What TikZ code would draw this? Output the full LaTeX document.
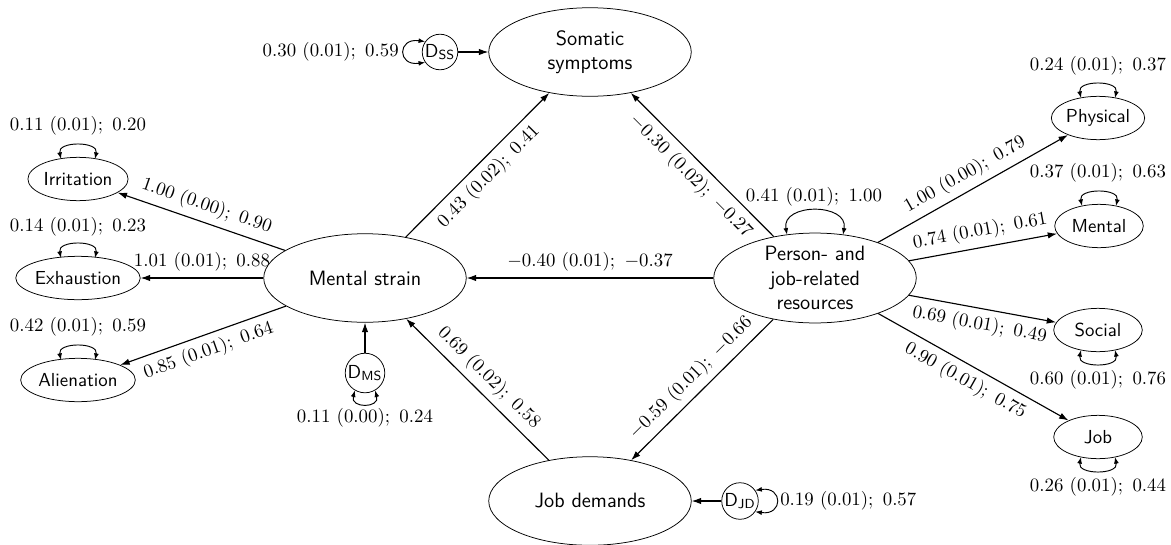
\documentclass[tikz,border=0pt]{standalone}
\usetikzlibrary{arrows.meta,calc,shapes.geometric}
\begin{document}
\begin{tikzpicture}[x=0.5308pt,y=-0.5308pt,
  big/.style={ellipse,draw,line width=0.4pt,minimum width=107.5pt,minimum height=47pt,inner sep=0pt,align=center,font=\sffamily\fontsize{11}{13}\selectfont},
  small/.style={ellipse,draw,line width=0.4pt,minimum width=47pt,minimum height=23pt,inner sep=0.5pt,font=\sffamily},
  dnode/.style={circle,draw,line width=0.4pt,inner sep=0.3pt,font=\sffamily},
  lab/.style={inner sep=1pt,font=\normalsize},
  arr/.style={semithick,-{Latex[length=5pt,width=3.4pt]}},
  selfloop/.style={line width=0.5pt,{Latex[length=3.5pt,width=2.6pt]}-{Latex[length=3.5pt,width=2.6pt]}},
  elab/.style={sloped,font=\normalsize},
]
\useasboundingbox (0,0) rectangle (1171,544);

% main latent variables
\node[big] (ss) at (590,52) {Somatic\\symptoms};
\node[big] (ms) at (365,278) {Mental strain};
\node[big] (pr) at (815,278) {Person- and\\job-related\\resources};
\node[big] (jd) at (590,501) {Job demands};

% indicators
\node[small] (irr) at (78,179) {Irritation};
\node[small] (exh) at (78,278) {Exhaustion};
\node[small] (ali) at (78,380) {Alienation};
\node[small] (phy) at (1098,118) {Physical};
\node[small] (men) at (1099,226) {Mental};
\node[small] (soc) at (1098,330) {Social};
\node[small] (job) at (1098,437) {Job};

% disturbances
\node[dnode] (dss) at (440,52) {$\mathsf{D}_{\mathsf{SS}}$};
\node[dnode] (dms) at (365,373) {$\mathsf{D}_{\mathsf{MS}}$};
\node[dnode] (djd) at (740,501) {$\mathsf{D}_{\mathsf{JD}}$};

% paths
\draw[arr] (ms) -- node[elab,above]{$1.00\ (0.00);\ 0.90$} (irr);
\draw[arr] (ms) -- node[elab,above]{$1.01\ (0.01);\ 0.88$} (exh);
\draw[arr] (ms) -- node[elab,below]{$0.85\ (0.01);\ 0.64$} (ali);
\draw[arr] (ms) -- node[elab,below]{$0.43\ (0.02);\ 0.41$} (ss);
\draw[arr] (pr) -- node[elab,below]{$-0.30\ (0.02);\ -0.27$} (ss);
\draw[arr] (pr) -- node[elab,above]{$-0.40\ (0.01);\ -0.37$} (ms);
\draw[arr] (pr) -- node[elab,above]{$-0.59\ (0.01);\ -0.66$} (jd);
\draw[arr] (jd) -- node[elab,above]{$0.69\ (0.02);\ 0.58$} (ms);
\draw[arr] (pr) -- node[elab,above]{$1.00\ (0.00);\ 0.79$} (phy);
\draw[arr] (pr) -- node[elab,above]{$0.74\ (0.01);\ 0.61$} (men);
\draw[arr] (pr) -- node[elab,below]{$0.69\ (0.01);\ 0.49$} (soc);
\draw[arr] (pr) -- node[elab,below]{$0.90\ (0.01);\ 0.75$} (job);
\draw[arr] (dss) -- (ss);
\draw[arr] (dms) -- (ms);
\draw[arr] (djd) -- (jd);

% variance labels
\node[lab] (lirr) at (78,126) {$0.11\ (0.01);\ 0.20$};
\node[lab] (lexh) at (78,227) {$0.14\ (0.01);\ 0.23$};
\node[lab] (lali) at (78,327) {$0.42\ (0.01);\ 0.59$};
\node[lab] (lphy) at (1098,66) {$0.24\ (0.01);\ 0.37$};
\node[lab] (lmen) at (1098,173) {$0.37\ (0.01);\ 0.63$};
\node[lab] (lsoc) at (1098,380) {$0.60\ (0.01);\ 0.76$};
\node[lab] (ljob) at (1098,487) {$0.26\ (0.01);\ 0.44$};
\node[lab] (lpr) at (814,197) {$0.41\ (0.01);\ 1.00$};
\node[lab,anchor=east] (ldss) at (401,52) {$0.30\ (0.01);\ 0.59$};
\node[lab,anchor=west] (ldjd) at (778,501) {$0.19\ (0.01);\ 0.57$};
\node[lab] (ldms) at (365,418) {$0.11\ (0.00);\ 0.24$};

% variance loops
\draw[selfloop] ($(irr.north)+(-17,2)$) .. controls +(-4,-18) and +(4,-18) .. ($(irr.north)+(17,2)$);
\draw[selfloop] ($(exh.north)+(-17,2)$) .. controls +(-4,-18) and +(4,-18) .. ($(exh.north)+(17,2)$);
\draw[selfloop] ($(ali.north)+(-17,2)$) .. controls +(-4,-18) and +(4,-18) .. ($(ali.north)+(17,2)$);
\draw[selfloop] ($(phy.north)+(-17,2)$) .. controls +(-4,-18) and +(4,-18) .. ($(phy.north)+(17,2)$);
\draw[selfloop] ($(men.north)+(-17,2)$) .. controls +(-4,-18) and +(4,-18) .. ($(men.north)+(17,2)$);
\draw[selfloop] ($(soc.south)+(-17,-2)$) .. controls +(-4,18) and +(4,18) .. ($(soc.south)+(17,-2)$);
\draw[selfloop] ($(job.south)+(-17,-2)$) .. controls +(-4,18) and +(4,18) .. ($(job.south)+(17,-2)$);
\draw[selfloop] ($(pr.north)+(-28,2)$) .. controls +(-6,-32) and +(6,-32) .. ($(pr.north)+(28,2)$);
\draw[selfloop] (dss.145) .. controls +(-28,-4) and +(-28,4) .. (dss.215);
\draw[selfloop] (djd.35) .. controls +(28,-4) and +(28,4) .. (djd.-35);
\draw[selfloop] (dms.-120) .. controls +(-5,18) and +(5,18) .. (dms.-60);
\end{tikzpicture}
\end{document}
